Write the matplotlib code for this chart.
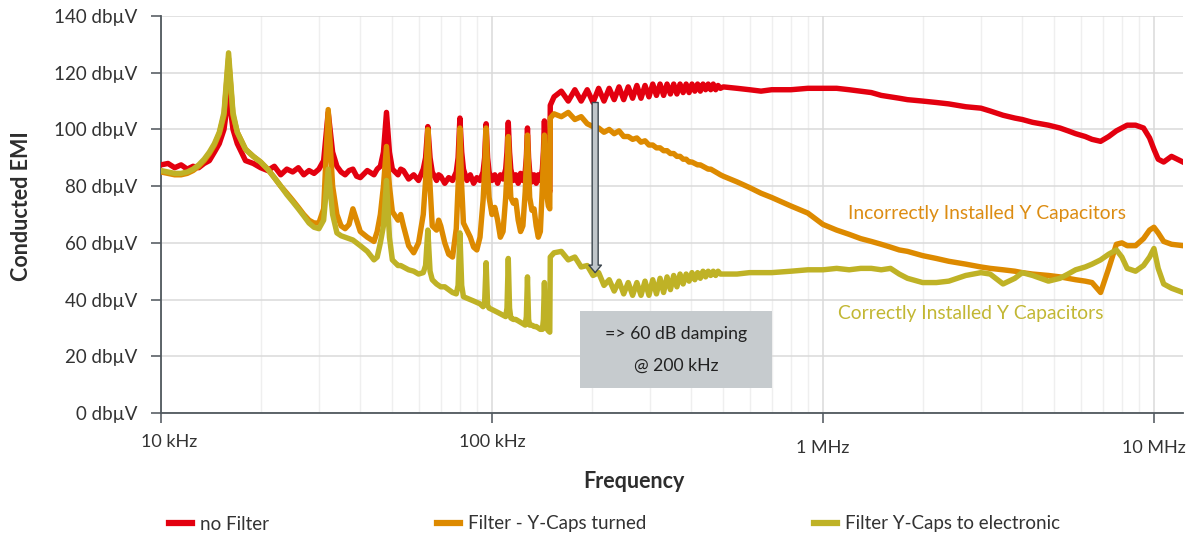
import matplotlib.pyplot as plt
import matplotlib.transforms as mtransforms
from matplotlib.patches import Rectangle
from matplotlib.lines import Line2D

plt.rcParams['font.family'] = ['Lato', 'DejaVu Sans']

# frequency grids (kHz)
f_low = [10, 10.5, 11, 11.5, 12, 12.5, 13, 13.5, 14, 14.5,
         15, 15.5, 16, 16.5, 17, 17.5, 18, 19, 20, 21,
         22, 23, 24, 25, 26, 27, 28, 29, 30, 31,
         32, 33, 34, 35, 36, 37, 38, 39, 40, 42,
         44, 45, 46, 47, 48, 49, 50, 52, 53, 54,
         56, 58, 60, 62, 63, 64, 65, 66, 68, 69,
         70, 72, 74, 76, 78, 79, 80, 81, 82, 84,
         86, 88, 90, 92, 94, 95, 96, 97, 98, 100,
         102, 104, 106, 108, 110, 111, 112, 113, 114, 116,
         118, 120, 122, 124, 126, 127, 128, 129, 130, 132,
         134, 136, 138, 140, 142, 143, 144, 145, 146, 148,
         149.5]
f_mid = [150, 154, 162, 170, 178, 186, 194, 202, 210, 218,
         226, 234, 242, 250, 258, 266, 274, 282, 290, 298,
         306, 314, 322, 330, 338, 346, 354, 362, 370, 378,
         386, 394, 402, 410, 418, 426, 434, 442, 450, 458,
         466, 474, 482, 490]
f_high = [500, 550, 600, 650, 700, 800, 900, 1000, 1100, 1200,
          1300, 1400, 1500, 1600, 1700, 1800, 2000, 2200, 2400, 2700,
          3000, 3200, 3500, 3800, 4000, 4300, 4800, 5200, 5500, 5800,
          6200, 6500, 6900, 7300, 7700, 8000, 8300, 8800, 9300, 9700,
          10000, 10300, 10700, 11300, 12240]

# no Filter (dBuV)
red_low = [87.5, 88, 86.5, 87.5, 86, 87, 86.5, 88, 89, 92,
           95, 100, 112.5, 100, 95, 92, 89, 88, 86.5, 85.5,
           87, 84, 86, 85, 86.5, 84, 85.5, 84.5, 86, 89,
           106, 92, 87, 85, 84, 85.5, 86, 83.5, 83, 85.5,
           84, 86, 87, 92, 106, 92, 86, 84, 86, 85.5,
           82.5, 84, 82, 86, 90, 101, 90, 85, 82, 84,
           83.5, 81, 83, 82, 85, 90, 104, 92, 86, 82,
           84, 81, 83, 82, 85, 90, 102, 90, 85, 82,
           84, 81, 84, 82.5, 86, 92, 102.5, 92, 86, 82,
           84, 81, 84.5, 82, 85, 90, 100.5, 90, 85, 81.5,
           84, 81, 84, 82, 86, 92, 103, 92, 85, 80,
           78]
red_mid = [108.5, 111.5, 113.5, 110, 114, 110, 114, 109.5, 114.5, 110,
           114.5, 110.5, 115, 110.5, 115, 111, 115.5, 111, 115.5, 111.5,
           116, 112, 116, 112, 116, 112.5, 116, 112.5, 116, 113,
           116, 113, 116, 113.5, 116, 113.5, 116, 114, 116, 114,
           116, 114, 115.5, 114.5]
red_high = [115, 114.5, 114, 113.5, 114, 114, 114.5, 114.5, 114.5, 114,
            113.5, 113, 112, 111.5, 111, 110.5, 110, 109.5, 109, 108,
            107.5, 106.5, 105, 104, 103.5, 102.5, 101.5, 100.5, 99.5, 98.5,
            97.5, 96.5, 95.8, 97.5, 99.5, 100.5, 101.5, 101.5, 100.5, 97,
            93, 89.5, 88.5, 90.5, 88.5]

# Filter - Y-Caps turned
org_low = [85, 84.5, 84, 84, 84.5, 85.5, 87, 89, 91.5, 94.5,
           98.5, 105, 125, 105, 99, 96, 93, 90.5, 88.5, 86,
           83, 80, 77.5, 75, 72.5, 70, 68, 67, 67, 72,
           107, 80, 70, 66, 65, 66.5, 72, 68, 64, 62,
           60.5, 64, 70, 80, 94, 80, 71, 68, 70, 66,
           59, 56.5, 60, 70, 82, 100, 80, 66, 64.5, 68,
           66, 60, 56, 55, 65, 80, 100.5, 80, 67, 64.5,
           62, 58.5, 57.5, 62, 75, 85, 100.5, 85, 76, 70,
           72.5, 68, 62, 64, 76, 85, 97.5, 85, 76, 74,
           75, 68, 64, 66, 78, 88, 98, 86, 76, 71.5,
           72, 66, 62, 64, 80, 90, 98, 88, 78, 73,
           72]
org_mid = [104, 105.5, 104.5, 106, 103.5, 104.5, 102, 101, 100.5, 99,
           100, 98.5, 99.5, 97.5, 97.5, 96.5, 97, 95.5, 96, 94.5,
           94.5, 93.5, 93.5, 92.5, 92.5, 91.5, 91.5, 90.5, 90.5, 89.5,
           89.5, 88.5, 88.5, 88, 87.5, 87.5, 87, 86.5, 86, 86,
           85.5, 85, 84.5, 84]
org_high = [83.5, 81.5, 79.5, 77.5, 76, 73, 70.5, 66.5, 64.5, 63,
            61.5, 60.5, 59.5, 58.5, 57.5, 57, 55.5, 54.5, 53.5, 52.5,
            51.5, 51, 50.5, 50, 49.5, 49, 48.5, 48, 47.5, 47,
            46.5, 46, 42.5, 51, 59.5, 60, 59, 59, 61.5, 64.5,
            65.5, 63.5, 60.5, 59.5, 59]

# Filter Y-Caps to electronic
yel_low = [85.5, 85, 84.5, 84.5, 85, 86, 87.5, 89.5, 92, 95,
           99, 106, 127, 106, 99, 96, 93, 90.5, 88.5, 86,
           83, 80, 77, 74.5, 72, 69.5, 67, 65.5, 65, 68,
           86, 70, 63.5, 62.5, 62, 61.5, 61, 60, 59, 57,
           54, 55, 60, 66, 82, 62, 54, 52, 52, 51.5,
           50.5, 50, 49, 49.5, 52, 64.5, 50, 47, 45.5, 45,
           44.5, 44.5, 43.5, 42.5, 42, 45, 63.5, 45, 41, 40.5,
           40, 39.5, 39, 38.5, 37.5, 39, 53, 38, 37, 36.5,
           36, 35.5, 35, 34.5, 34, 37, 54.5, 37, 33.5, 33,
           33, 32.5, 32, 31.5, 31, 34, 48, 33, 31, 31,
           30.5, 30.5, 30, 29.5, 29.5, 33, 46, 33, 30, 29,
           28.5]
yel_mid = [55, 56.5, 57, 54, 55, 51.5, 52, 48.5, 49.5, 45,
           47, 43, 46.5, 42, 46, 41.5, 46, 41.5, 46.5, 41.5,
           47, 42, 47.5, 42.5, 48, 43.5, 48.5, 44.5, 49, 45.5,
           49, 46.5, 49.5, 47, 49.5, 47.5, 50, 48, 50, 48.5,
           50, 48.5, 50, 49]
yel_high = [49, 49, 49.5, 49.5, 49.5, 50, 50.5, 50.5, 51, 50.5,
            51, 51, 50.5, 51, 49, 47.5, 46, 46, 46.5, 48.5,
            49.5, 49, 45.5, 47.5, 49.5, 48.5, 46.5, 47.5, 49, 50.5,
            51.5, 52.5, 54, 56, 57.5, 55, 51, 50, 52, 55,
            58, 51, 45.5, 44, 42.5]

yticks = [0, 20, 40, 60, 80, 100, 120, 140]
xticks = [10, 100, 1000, 10000]
xlabels = ['10 kHz', '100 kHz', '1 MHz', '10 MHz']
series_names = ['no Filter', 'Filter - Y-Caps turned', 'Filter Y-Caps to electronic']
COLORS = ['#e3000f', '#dd8a00', '#bfb226']

freq = f_low + f_mid + f_high
red = red_low + red_mid + red_high
org = org_low + org_mid + org_high
yel = yel_low + yel_mid + yel_high

fig = plt.figure(figsize=(11.96, 5.4), dpi=100, facecolor='white')
ax = fig.add_axes([161/1196, 1-413/540, 1022/1196, 397/540])

for vals, c in zip([red, org, yel], COLORS):
    ax.plot(freq, vals, color=c, lw=3.9, solid_joinstyle='round', zorder=3)

ax.set_xscale('log')
ax.set_xlim(10, 12240)
ax.set_ylim(0, 140)
ax.set_yticks(yticks)
ax.set_yticklabels([f'{v} db\u00b5V' for v in yticks])
ax.set_xticks(xticks)
ax.set_xticklabels(xlabels)
ax.tick_params(axis='y', which='major', length=7, width=1.2, color='#5a6066',
               labelsize=13.5, labelcolor='#333333', pad=10)
ax.tick_params(axis='x', which='major', length=7, width=1.2, color='#5a6066',
               labelsize=13, labelcolor='#333333', pad=8)
ax.tick_params(axis='x', which='minor', length=0)

ax.grid(True, which='major', color='#dadada', lw=1.1, zorder=0)
ax.grid(True, which='minor', axis='x', color='#efefef', lw=1, zorder=0)
for s in ['top', 'right']:
    ax.spines[s].set_visible(False)
for s in ['left', 'bottom']:
    ax.spines[s].set_color('#50585e')
    ax.spines[s].set_linewidth(1.3)

# staggered x tick labels like the original
shifts = [(8, 0), (0, 0), (0, -6), (0, -6)]
for lab, (dx, dy) in zip(ax.get_xticklabels(), shifts):
    lab.set_transform(lab.get_transform() +
                      mtransforms.ScaledTranslation(dx/100, dy/100, fig.dpi_scale_trans))

# damping arrow
ax.annotate('', xy=(205, 49.5), xytext=(205, 109.5),
            arrowprops=dict(arrowstyle='simple,head_length=0.45,head_width=0.75,tail_width=0.36',
                            mutation_scale=12, fc='#c0c6ca', ec='#3c464e', lw=1,
                            shrinkA=0, shrinkB=0), zorder=5)

# text box
ax.add_patch(Rectangle((0.41, 0.063), 0.188, 0.194, transform=ax.transAxes,
                       facecolor='#c6cbce', edgecolor='none', zorder=4))
ax.text(0.504, 0.199, '=> 60 dB damping', transform=ax.transAxes, ha='center',
        va='center', fontsize=12.7, color='#222222', zorder=5)
ax.text(0.504, 0.12, '@ 200 kHz', transform=ax.transAxes, ha='center',
        va='center', fontsize=12.7, color='#222222', zorder=5)

ax.text(1190, 70.5, 'Incorrectly Installed Y Capacitors', color='#dc8c12',
        fontsize=13.9, ha='left', va='center', zorder=5)
ax.text(1110, 35, 'Correctly Installed Y Capacitors', color='#c2b733',
        fontsize=13.9, ha='left', va='center', zorder=5)

fig.text(634/1196, 1-482/540, 'Frequency', ha='center', va='center',
         fontsize=15.5, fontweight='bold', color='#2d2d2d')
fig.text(22/1196, 1-206/540, 'Conducted EMI', ha='center', va='center',
         rotation=90, fontsize=15.5, fontweight='bold', color='#2d2d2d')

handles = [Line2D([], [], color=c, lw=4.5) for c in COLORS]
fig.legend(handles, series_names, loc='center left', bbox_to_anchor=(169/1196, 1-524/540),
           ncol=3, frameon=False, fontsize=13.5, handlelength=1.25, handletextpad=0.4,
           columnspacing=8.95, labelcolor='#333333', borderaxespad=0, borderpad=0)

fig.savefig('out.png', dpi=100, facecolor='white')
